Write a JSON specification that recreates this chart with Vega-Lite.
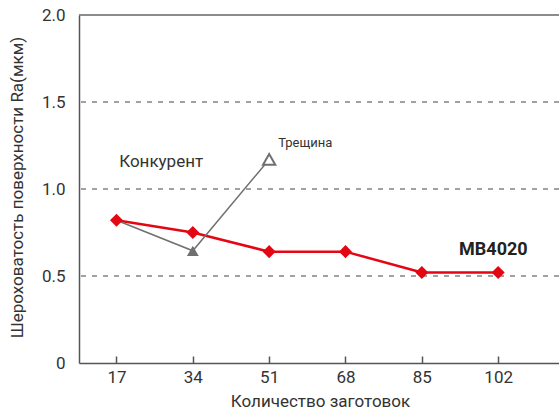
{
  "$schema": "https://vega.github.io/schema/vega-lite/v6.json",
  "width": 480,
  "height": 348,
  "autosize": "none",
  "padding": {"left": 79, "top": 15, "right": 0, "bottom": 49},
  "background": "white",
  "config": {
    "view": {"stroke": null},
    "font": "Roboto",
    "axis": {"labelColor": "#333333", "titleColor": "#333333", "domainColor": "#555555", "domainWidth": 1.5, "grid": false, "labelFont": "Roboto", "titleFont": "Roboto"}
  },
  "datasets": {
    "mb": [
      {"n": 17, "ra": 0.82},
      {"n": 34, "ra": 0.75},
      {"n": 51, "ra": 0.64},
      {"n": 68, "ra": 0.64},
      {"n": 85, "ra": 0.52},
      {"n": 102, "ra": 0.52}
    ],
    "comp": [
      {"n": 17, "ra": 0.82, "kind": "start"},
      {"n": 34, "ra": 0.645, "kind": "filled"},
      {"n": 51, "ra": 1.17, "kind": "crack"}
    ],
    "grid": [{"ra": 0.5}, {"ra": 1.0}, {"ra": 1.5}],
    "top": [{"ra": 2.0}],
    "notes": [
      {"n": 17.6, "ra": 1.155, "label": "Конкурент", "size": 17},
      {"n": 53.0, "ra": 1.264, "label": "Трещина", "size": 13}
    ],
    "brand": [
      {"n": 93.3, "ra": 0.649, "label": "MB4020"}
    ]
  },
  "layer": [
    {
      "data": {"name": "grid"},
      "mark": {"type": "rule", "color": "#444444", "strokeWidth": 1, "strokeDash": [5, 6]},
      "encoding": {
        "y": {
          "field": "ra", "type": "quantitative",
          "scale": {"domain": [0, 2], "nice": false, "zero": true},
          "axis": {
            "title": "Шероховатость поверхности  Ra(мкм)",
            "values": [0, 0.5, 1, 1.5, 2],
            "labelExpr": "datum.value == 0 ? '0' : format(datum.value, '.1f')",
            "ticks": false,
            "labelPadding": 14,
            "labelFontSize": 17,
            "titleFontSize": 17,
            "titleFontWeight": "normal",
            "titleX": -62,
            "titleY": 172,
            "titleBaseline": "middle",
            "titleAlign": "center"
          }
        }
      }
    },
    {
      "data": {"name": "top"},
      "mark": {"type": "rule", "color": "#666666", "strokeWidth": 1.5},
      "encoding": {"y": {"field": "ra", "type": "quantitative"}}
    },
    {
      "data": {"name": "mb"},
      "mark": {"type": "line", "color": "#e30613", "strokeWidth": 2.5},
      "encoding": {
        "x": {
          "field": "n", "type": "quantitative",
          "scale": {"domain": [8.65, 115.55], "nice": false, "zero": false},
          "axis": {
            "title": "Количество заготовок",
            "values": [17, 34, 51, 68, 85, 102],
            "tickSize": -7,
            "tickColor": "#555555",
            "tickWidth": 1.5,
            "labelPadding": 13,
            "labelFontSize": 17,
            "titleFontSize": 17,
            "titleFontWeight": "normal",
            "titleBaseline": "middle",
            "titleY": 38,
            "titleX": 241
          }
        },
        "y": {"field": "ra", "type": "quantitative"}
      }
    },
    {
      "data": {"name": "comp"},
      "mark": {"type": "line", "color": "#707070", "strokeWidth": 1.5},
      "encoding": {
        "x": {"field": "n", "type": "quantitative"},
        "y": {"field": "ra", "type": "quantitative"}
      }
    },
    {
      "data": {"name": "mb"},
      "mark": {"type": "point", "shape": "diamond", "filled": true, "color": "#e30613", "size": 170, "opacity": 1},
      "encoding": {
        "x": {"field": "n", "type": "quantitative"},
        "y": {"field": "ra", "type": "quantitative"}
      }
    },
    {
      "data": {"name": "comp"},
      "transform": [{"filter": "datum.kind == 'filled'"}],
      "mark": {"type": "point", "shape": "triangle-up", "filled": true, "color": "#707070", "size": 140, "opacity": 1},
      "encoding": {
        "x": {"field": "n", "type": "quantitative"},
        "y": {"field": "ra", "type": "quantitative"}
      }
    },
    {
      "data": {"name": "comp"},
      "transform": [{"filter": "datum.kind == 'crack'"}],
      "mark": {"type": "point", "shape": "triangle-up", "filled": false, "fill": "white", "fillOpacity": 1, "stroke": "#707070", "strokeWidth": 2, "size": 150, "opacity": 1},
      "encoding": {
        "x": {"field": "n", "type": "quantitative"},
        "y": {"field": "ra", "type": "quantitative"}
      }
    },
    {
      "data": {"name": "notes"},
      "mark": {"type": "text", "align": "left", "baseline": "middle", "color": "#333333", "font": "Roboto"},
      "encoding": {
        "x": {"field": "n", "type": "quantitative"},
        "y": {"field": "ra", "type": "quantitative"},
        "text": {"field": "label"},
        "size": {"field": "size", "type": "quantitative", "scale": null}
      }
    },
    {
      "data": {"name": "brand"},
      "mark": {"type": "text", "align": "left", "baseline": "middle", "color": "#222222", "font": "Roboto", "fontWeight": "bold", "fontSize": 18},
      "encoding": {
        "x": {"field": "n", "type": "quantitative"},
        "y": {"field": "ra", "type": "quantitative"},
        "text": {"field": "label"}
      }
    }
  ]
}
